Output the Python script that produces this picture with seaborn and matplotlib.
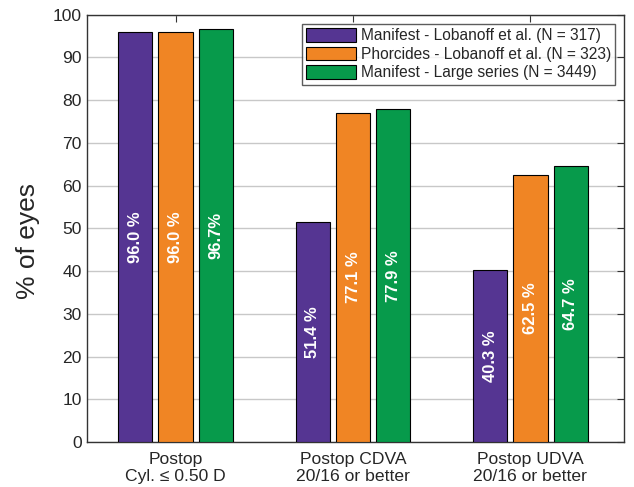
import pandas as pd
import seaborn as sns
import matplotlib.pyplot as plt

# Data
categories = ["Postop\nCyl. \u2264 0.50 D", "Postop CDVA\n20/16 or better", "Postop UDVA\n20/16 or better"]
series = [
    "Manifest - Lobanoff et al. (N = 317)",
    "Phorcides - Lobanoff et al. (N = 323)",
    "Manifest - Large series (N = 3449)",
]
manifest_lob = [96.0, 51.4, 40.3]
phorcides_lob = [96.0, 77.1, 62.5]
manifest_large = [96.7, 77.9, 64.7]
bar_labels = [
    ["96.0 %", "51.4 %", "40.3 %"],
    ["96.0 %", "77.1 %", "62.5 %"],
    ["96.7%", "77.9 %", "64.7 %"],
]
colors = ["#553592", "#F08524", "#079A4B"]

rows = []
for name, vals in zip(series, [manifest_lob, phorcides_lob, manifest_large]):
    for cat, v in zip(categories, vals):
        rows.append({"cat": cat, "series": name, "value": v})
df = pd.DataFrame(rows)

sns.set_style("white")
plt.rcParams["font.family"] = ["Liberation Sans", "DejaVu Sans"]

fig, ax = plt.subplots(figsize=(6.34, 4.87), dpi=100)
sns.barplot(data=df, x="cat", y="value", hue="series", palette=colors,
            width=0.68, gap=0.15, edgecolor="black", linewidth=0.8,
            saturation=1, ax=ax, zorder=3)

# value labels inside the bars
for cont, labels in zip(ax.containers, bar_labels):
    for rect, lab in zip(cont, labels):
        x = rect.get_x() + rect.get_width() / 2
        h = rect.get_height()
        ax.text(x, h / 2, lab, rotation=90, ha="center", va="center",
                color="white", fontsize=12, fontweight="bold", zorder=4)

ax.set_ylim(0, 100)
ax.set_xlim(-0.5, 2.53)
ax.set_yticks(range(0, 101, 10))
ax.yaxis.grid(True, color="#c8c8c8", linewidth=1, zorder=0)
ax.set_axisbelow(True)
ax.set_xlabel("")
ax.set_ylabel("% of eyes", fontsize=19)
ax.yaxis.set_label_coords(-0.087, 0.47)
ax.tick_params(axis="both", labelsize=12.6, direction="in", length=5,
               top=True, right=True, color="#333333")
ax.tick_params(axis="x", pad=7)
for s in ax.spines.values():
    s.set_color("#333333")
    s.set_linewidth(1.0)

leg = ax.legend(loc="upper right", fontsize=11.2, frameon=True, fancybox=False,
                edgecolor="#333333", handlelength=3.2, handleheight=0.95,
                borderaxespad=0.6, labelspacing=0.22, borderpad=0.28,
                handletextpad=0.3)
leg.get_frame().set_linewidth(1.0)

fig.subplots_adjust(left=0.137, right=0.985, top=0.97, bottom=0.092)
fig.savefig("out.png", dpi=100)
